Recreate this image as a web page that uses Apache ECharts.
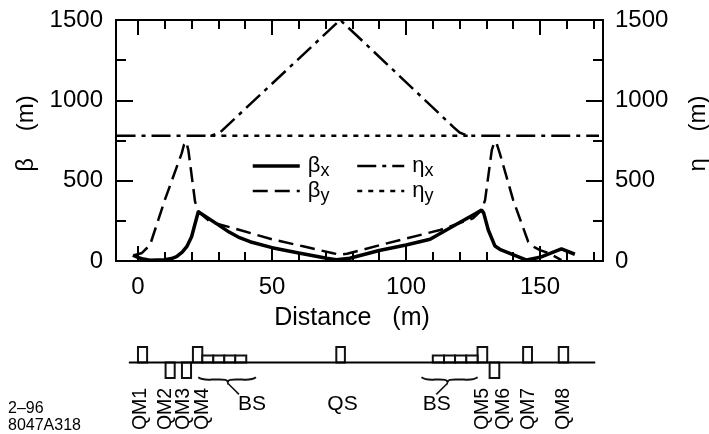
<!DOCTYPE html>
<html><head><meta charset="utf-8">
<style>html,body{margin:0;padding:0;background:#fff}#c{width:709px;height:434px}</style>
<script src="https://cdn.jsdelivr.net/npm/echarts@6/dist/echarts.min.js"></script>
</head><body><div id="c"></div>
<script>
const betaX=[[-1.9,37],[0,22],[2,12],[4.5,5],[10,8],[12.5,15],[14.4,27],[16.5,55],[18.2,89],[20,151],[22.5,307],[30,225],[34,180],[37.4,149],[41.8,120],[50,83],[60,50],[70.4,17],[74,8],[79,17],[90,65],[100,100],[109,135],[113.9,182],[120,240],[126,295],[128.2,317],[129,298],[130.7,193],[133.2,93],[135,73],[145,6],[150,23],[158,75],[163,42]];
const betaY=[[-1.1,37],[1.5,50],[4.5,100],[10,379],[16.3,670],[17.2,725],[18,742],[18.8,690],[21.3,369],[22.5,307],[26.9,244],[38,193],[50,135],[62,90],[72.8,48],[75.4,40],[78,45],[90.3,99],[112.7,193],[125,265],[128.2,317],[129.5,379],[132,690],[132.8,730],[133.6,742],[135,670],[140,379],[145.6,120],[148,85],[150,68],[153,50],[158,6]];
const etaX=[[-8,780],[25,780],[27,778],[30.6,800],[75.4,1500],[82.8,1385],[117.6,835],[120,800],[123,780],[172,780]];
const etaY=[[27,780],[123,780]];
const xMajor=[0,50,100,150];
const xMinor=[10,20,30,40,60,70,80,90,110,120,130,140,160,170];
const magnetFrom=[0,10.3,16.4,20.5,74,126.7,131.2,143.7,157];
const magnetTo=[3.4,13.7,19.8,24,77.2,130.3,134.8,147,160.5];
const magnetSide=[1,-1,-1,1,1,1,-1,1,1];
const bendFrom=[24,28.1,32.2,36.3,110,114.2,118.3,122.5];
const bendTo=[28.1,32.2,36.3,40.4,114.2,118.3,122.5,126.7];
const quadLabels=['QM1','QM2','QM3','QM4','QM5','QM6','QM7','QM8'];
const quadLabelX=[1.1,10.3,17.1,24.3,128.5,136.3,145.6,158.7];
const sideLabels=['BS','QS','BS'];
const sideLabelX=[42.5,76.3,111.5];
const bracesX=[[22.5,33.5,44],[105.8,115.5,126.7]];
const beamLine=[-3.4,170.6];

const xMin=-8.2,xMax=173.5;
const F='"Liberation Sans",Arial,sans-serif',K='#000';
const L={left:116,width:487};
function xAx(pos,vals,len,grid){return {type:'value',gridIndex:grid||0,position:pos,min:xMin,max:xMax,splitLine:{show:false},
  axisLine:{show:true,onZero:false,lineStyle:{color:K,width:2}},
  axisTick:{show:true,inside:true,length:len,customValues:vals,lineStyle:{color:K,width:2}},
  axisLabel:{show:false}};}
const xBottom=xAx('bottom',xMajor,15);
xBottom.axisLabel={show:true,customValues:xMajor,color:K,fontFamily:F,fontSize:24,margin:14,formatter:v=>String(v)};
xBottom.name='Distance   (m)';xBottom.nameLocation='middle';xBottom.nameGap=45;
xBottom.nameTextStyle={color:K,fontFamily:F,fontSize:25,padding:[0,15,0,0]};
function yAx(pos,name,gap,margin){return {type:'value',position:pos,min:0,max:1500,interval:500,splitLine:{show:false},
  axisLine:{show:true,onZero:false,lineStyle:{color:K,width:2}},
  axisTick:{show:true,inside:true,length:17,lineStyle:{color:K,width:2}},
  minorTick:{show:true,splitNumber:2,length:10,lineStyle:{color:K,width:2}},
  axisLabel:{color:K,fontFamily:F,fontSize:24,margin,formatter:v=>String(v)},
  name:name,nameLocation:'middle',nameRotate:90,nameGap:gap,nameTextStyle:{color:K,fontFamily:F,fontSize:24,padding:[0,0,0,14]}};}
function line(name,data,w,dash){return {name,type:'line',data,xAxisIndex:0,yAxisIndex:0,symbol:'none',silent:true,clip:false,
  color:'#000',lineStyle:{color:'#000',width:w,type:dash||'solid'}};}
const boxes=[];
magnetFrom.forEach((a,i)=>boxes.push([a,magnetTo[i],magnetSide[i]]));
bendFrom.forEach((a,i)=>boxes.push([a,bendTo[i],0.45]));
const rich={b:{fontFamily:F,fontSize:22,color:K},s:{fontFamily:F,fontSize:18,color:K,padding:[10,0,0,0]}};
const fmt=n=>'{b|'+n[0]+'}{s|'+n[1]+'}';
const legendBase={orient:'vertical',itemWidth:47,itemHeight:14,itemGap:0,itemStyle:{color:'rgba(0,0,0,0)',borderWidth:0},lineStyle:{width:'inherit'},formatter:fmt,selectedMode:false,
  textStyle:{rich,padding:[0,0,0,3]}};
const yAtLabel=-4.35;
const option={animation:false,backgroundColor:'#fff',
 grid:[{left:L.left,width:L.width,top:20,height:241,outerBoundsMode:'none'},{left:L.left,width:L.width,top:340,height:94,outerBoundsMode:'none'}],
 legend:[Object.assign({},legendBase,{left:246,top:150,data:['βx','βy']}),Object.assign({},legendBase,{left:351,top:150,data:['ηx','ηy']})],
 xAxis:[xBottom,xAx('bottom',xMinor,9),xAx('top',xMajor,15),xAx('top',xMinor,9),
  {type:'value',gridIndex:1,min:xMin,max:xMax,show:false}],
 yAxis:[yAx('left','β    (m)',74,13),yAx('right','η    (m)',83,12),
  {type:'value',gridIndex:1,min:-4.6,max:1.45,show:false}],
 graphic:[
  {type:'text',left:8,top:401,style:{text:'2–96',font:'16px '+F,fill:K}},
  {type:'text',left:8,top:418,style:{text:'8047A318',font:'16px '+F,fill:K}}],
 series:[
  line('βx',betaX,3.5),line('βy',betaY,2.5,[15,7]),line('ηx',etaX,2.5,[19,6,4,6]),line('ηy',etaY,2.5,[5,6]),
  {type:'line',xAxisIndex:4,yAxisIndex:2,symbol:'none',silent:true,data:beamLine.map(x=>[x,0]),lineStyle:{color:'#000',width:2}},
  {type:'custom',xAxisIndex:4,yAxisIndex:2,silent:true,data:boxes,
   renderItem:(p,api)=>{const a=api.coord([api.value(0),0]),b=api.coord([api.value(1),api.value(2)]);
     return {type:'rect',shape:{x:Math.min(a[0],b[0]),y:Math.min(a[1],b[1]),width:Math.abs(b[0]-a[0]),height:Math.abs(b[1]-a[1])},
       style:{fill:'#fff',stroke:'#111',lineWidth:2}};}},
  {type:'custom',xAxisIndex:4,yAxisIndex:2,silent:true,data:bracesX,
   renderItem:(p,api)=>{const yA=-0.95,yB=-1.1,yT=-1.25;
     const x0=api.value(0),xm=api.value(1),x1=api.value(2);
     const c=(x,y)=>api.coord([x,y]).map(v=>v.toFixed(1)).join(' ');
     const d='M'+c(x0,yA)+'C'+c(x0+1.5,yB-0.05)+' '+c(x0+4,yB)+' '+c(x0+5,yB)+'L'+c(xm-3,yB)+'C'+c(xm-1,yB)+' '+c(xm-.3,yB)+' '+c(xm,yT)
       +'C'+c(xm+.3,yB)+' '+c(xm+1,yB)+' '+c(xm+3,yB)+'L'+c(x1-5,yB)+'C'+c(x1-4,yB)+' '+c(x1-1.5,yB-0.05)+' '+c(x1,yA);
     const dir=p.dataIndex===0?1:-1;
     const e=c(xm,-1.33)+'L'+c(xm+dir*4.2,-2.05);
     return {type:'group',children:[
       {type:'path',shape:{pathData:d,layout:'none'},style:{fill:'none',stroke:'#111',lineWidth:2}},
       {type:'path',shape:{pathData:'M'+e,layout:'none'},style:{fill:'none',stroke:'#111',lineWidth:1.5}}]};}},
  {type:'scatter',xAxisIndex:4,yAxisIndex:2,symbolSize:0,silent:true,clip:false,itemStyle:{opacity:1},
   data:quadLabels.map((t,i)=>({value:[quadLabelX[i],yAtLabel],name:t})),
   label:{show:true,formatter:'{b}',position:[0,0],rotate:90,align:'left',verticalAlign:'middle',color:K,fontFamily:F,fontSize:19.5}},
  {type:'scatter',xAxisIndex:4,yAxisIndex:2,symbolSize:0,silent:true,clip:false,itemStyle:{opacity:1},
   data:sideLabels.map((t,i)=>({value:[sideLabelX[i],-2.68],name:t})),
   label:{show:true,formatter:'{b}',position:[0,0],align:'center',verticalAlign:'middle',color:K,fontFamily:F,fontSize:21}}
 ]};
echarts.init(document.getElementById('c'),null,{renderer:'canvas'}).setOption(option);
</script></body></html>
